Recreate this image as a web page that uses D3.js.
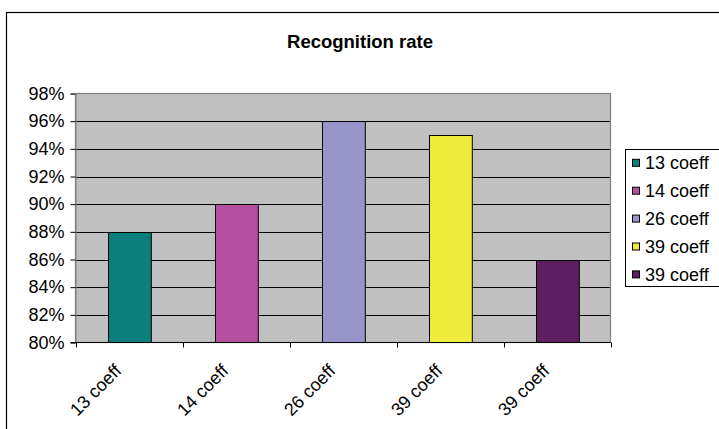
<!DOCTYPE html>
<html>
<head>
<meta charset="utf-8">
<script src="https://cdn.jsdelivr.net/npm/d3@7"></script>
<style>
  html, body { margin: 0; padding: 0; background: #fff; }
  svg { display: block; }
  text { font-family: "Liberation Sans", Arial, sans-serif; }
</style>
</head>
<body>
<svg id="chart" width="719" height="429"></svg>
<script>
const categories = ["13 coeff", "14 coeff", "26 coeff", "39 coeff", "39 coeff"];
const values = [88, 90, 96, 95, 86];
const colors = ["#0B7F7B", "#B54FA0", "#9895C8", "#F0EC3C", "#5E1F60"];
const yTicks = [80, 82, 84, 86, 88, 90, 92, 94, 96, 98];
const title = "Recognition rate";

const svg = d3.select("#chart");
const plot = { left: 75.5, top: 93.5, right: 610.5, bottom: 342.5 };

// outer chart border
svg.append("rect")
  .attr("x", 6.5).attr("y", 12.5)
  .attr("width", 800).attr("height", 500)
  .attr("fill", "#fff").attr("stroke", "#000").attr("stroke-width", 1.2);

// title
svg.append("text")
  .attr("x", 360).attr("y", 48)
  .attr("text-anchor", "middle")
  .attr("font-weight", "bold")
  .attr("font-size", 18.5)
  .text(title);

const x = d3.scaleBand()
  .domain(d3.range(categories.length))
  .range([plot.left, plot.right])
  .paddingInner(0.6).paddingOuter(0.3);
const xb = d3.scaleBand()
  .domain(d3.range(categories.length))
  .range([plot.left, plot.right]);
const y = d3.scaleLinear().domain([80, 98]).range([plot.bottom, plot.top]);

// plot background
svg.append("rect")
  .attr("x", plot.left).attr("y", plot.top)
  .attr("width", plot.right - plot.left).attr("height", plot.bottom - plot.top)
  .attr("fill", "#C0C0C0");

// gridlines
svg.append("g").selectAll("line")
  .data(yTicks.filter(t => t > 80 && t < 98))
  .join("line")
  .attr("x1", plot.left).attr("x2", plot.right)
  .attr("y1", d => Math.round(y(d)) + 0.5).attr("y2", d => Math.round(y(d)) + 0.5)
  .attr("stroke", "#000").attr("stroke-width", 1);

// plot border
svg.append("rect")
  .attr("x", plot.left).attr("y", plot.top)
  .attr("width", plot.right - plot.left).attr("height", plot.bottom - plot.top)
  .attr("fill", "none").attr("stroke", "#808080").attr("stroke-width", 1.2);

// bars
svg.append("g").selectAll("rect")
  .data(values)
  .join("rect")
  .attr("x", (d, i) => Math.round(x(i)) + 0.5)
  .attr("width", x.bandwidth())
  .attr("y", d => Math.round(y(d)) + 0.5)
  .attr("height", d => y(80) - Math.round(y(d)) - 0.5)
  .attr("fill", (d, i) => colors[i])
  .attr("stroke", "#000").attr("stroke-width", 1);

// y axis
const yAxis = d3.axisLeft(y).tickValues(yTicks).tickSize(5).tickPadding(6)
  .tickFormat(d => d + "%");
const gy = svg.append("g").attr("transform", `translate(${plot.left},0)`).call(yAxis);
gy.select(".domain").attr("stroke", "#808080");
gy.selectAll(".tick line").attr("stroke", "#000");
gy.selectAll("text").attr("font-size", 18).attr("fill", "#000")
  .attr("font-family", "'Liberation Sans', Arial, sans-serif");

// x axis (ticks at band boundaries)
const bounds = d3.range(categories.length + 1).map(i => plot.left + i * xb.step());
const gx = svg.append("g");
gx.append("line")
  .attr("x1", plot.left - 5).attr("x2", plot.right)
  .attr("y1", plot.bottom).attr("y2", plot.bottom)
  .attr("stroke", "#000").attr("stroke-width", 1.2);
gx.selectAll("line.tk").data(bounds).join("line").attr("class", "tk")
  .attr("x1", d => Math.round(d) + 0.5).attr("x2", d => Math.round(d) + 0.5)
  .attr("y1", plot.bottom).attr("y2", plot.bottom + 5)
  .attr("stroke", "#000");
gx.selectAll("text").data(categories).join("text")
  .attr("transform", (d, i) => `translate(${xb(i) + xb.bandwidth() / 2 - 11},${plot.bottom + 25}) rotate(-45)`)
  .attr("text-anchor", "end")
  .attr("dy", "0.35em")
  .attr("font-size", 18)
  .text(d => d);

// legend
const lg = svg.append("g");
lg.append("rect")
  .attr("x", 625.5).attr("y", 149.5).attr("width", 120).attr("height", 137)
  .attr("fill", "#fff").attr("stroke", "#000").attr("stroke-width", 1);
const rows = lg.selectAll("g").data(categories).join("g")
  .attr("transform", (d, i) => `translate(0,${162.8 + i * 27.9})`);
rows.append("rect")
  .attr("x", 632.5).attr("y", -3.5).attr("width", 7).attr("height", 7)
  .attr("fill", (d, i) => colors[i]).attr("stroke", "#000").attr("stroke-width", 1);
rows.append("text")
  .attr("x", 645).attr("y", 0).attr("dy", "0.35em")
  .attr("font-size", 18)
  .text(d => d);
</script>
</body>
</html>
